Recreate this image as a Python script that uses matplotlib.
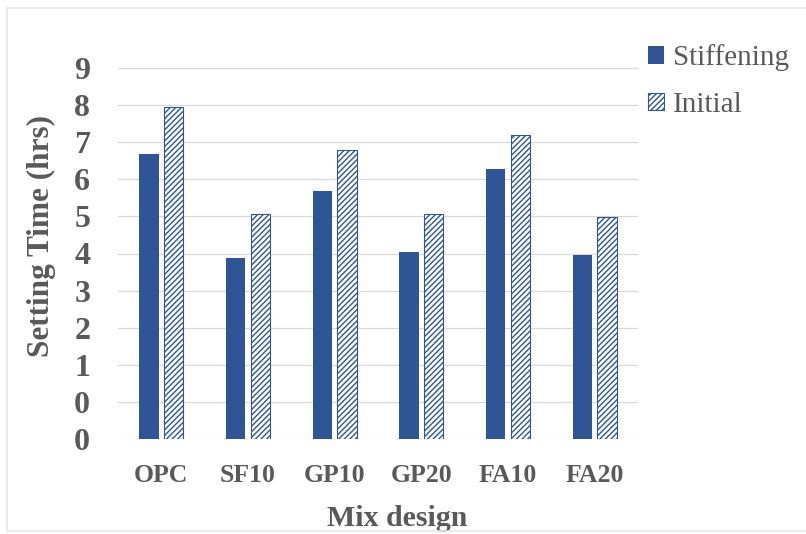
import numpy as np
import matplotlib.pyplot as plt
from matplotlib.patches import Rectangle

# data, in axis units (the axis tick labels read 0,0,1,...,9)
mixes = ['OPC', 'SF10', 'GP10', 'GP20', 'FA10', 'FA20']
stiffening = [7.68, 4.87, 6.68, 5.05, 7.27, 4.96]
initial = [8.96, 6.07, 7.79, 6.07, 8.19, 5.99]
ytick_labels = ['0', '0', '1', '2', '3', '4', '5', '6', '7', '8', '9']

blue = '#2f5597'
grey = '#595959'
plt.rcParams['hatch.color'] = blue
plt.rcParams['hatch.linewidth'] = 1.0

fig = plt.figure(figsize=(8.06, 5.34), dpi=100)
ax = fig.add_axes([118/806, 1-439/534, 520/806, (439-68)/534])

# faint outer frame
fig.patches.append(Rectangle((7/806, 0.005), 1.0, 1-8/534-0.005, transform=fig.transFigure,
                             fill=False, edgecolor='#e6e6e6', linewidth=1.2))

x = np.arange(len(mixes))
w = 0.225
ax.bar(x - 0.142, stiffening, w, color=blue, label='Stiffening', zorder=3)
ax.bar(x + 0.142, initial, w, color='white', edgecolor=blue, hatch='//////',
       linewidth=0.8, label='Initial', zorder=3)

ax.set_xlim(-0.5, len(mixes) - 0.5)
ax.set_ylim(0, 10)
ax.set_yticks(range(11))
ax.set_yticklabels(ytick_labels)
ax.set_xticks(x)
ax.set_xticklabels(mixes)
ax.yaxis.grid(True, color='#d9d9d9', linewidth=0.9, zorder=0)
for s in ax.spines.values():
    s.set_visible(False)
ax.tick_params(length=0)
ax.tick_params(axis='y', pad=20)
ax.tick_params(axis='x', pad=18)

for lab in ax.get_yticklabels():
    lab.set_fontfamily('Liberation Serif')
    lab.set_fontweight('bold')
    lab.set_fontsize(23)
    lab.set_color(grey)
for lab in ax.get_xticklabels():
    lab.set_fontfamily('Liberation Serif')
    lab.set_fontweight('bold')
    lab.set_fontsize(18.5)
    lab.set_color(grey)

ax.set_xlabel('Mix design', fontfamily='Liberation Serif', fontweight='bold',
              fontsize=21.5, color=grey)
ax.xaxis.set_label_coords((397 - 118) / 520, -(518 - 439) / 371)
ax.set_ylabel('Setting Time (hrs)', fontfamily='Liberation Serif', fontweight='bold',
              fontsize=22.5, color=grey)
ax.yaxis.set_label_coords(-(118 - 41) / 520, (439 - 236) / 371)
ax.yaxis.label.set_verticalalignment('center')
ax.xaxis.label.set_verticalalignment('center')

leg = fig.legend(loc='upper left', bbox_to_anchor=(622/806, 1-18/534), frameon=False,
                 prop={'family': 'Liberation Serif', 'size': 21},
                 handlelength=0.55, handleheight=0.55, handletextpad=0.3, labelspacing=0.7)
for t in leg.get_texts():
    t.set_color(grey)

fig.savefig('out.png', dpi=100)
